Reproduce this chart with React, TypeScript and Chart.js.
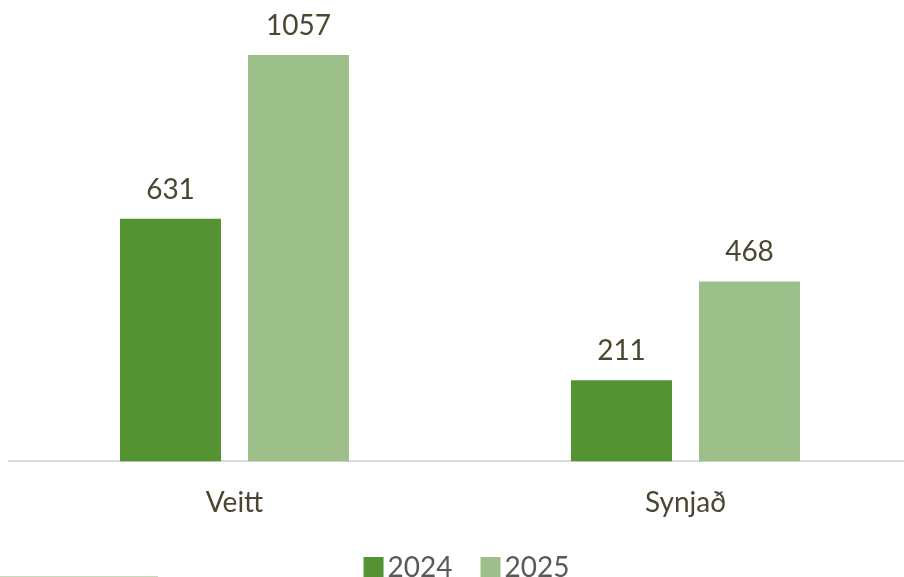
import React, { useEffect, useRef } from "react";
import { Chart, registerables } from "chart.js";

Chart.register(...registerables);

const categories = ["Veitt", "Synjað"];
const seriesLabels = ["2024", "2025"];
const values2024 = [631, 211];
const values2025 = [1057, 468];
const yMax = 1200;

const COLOR_2024 = "#559231";
const COLOR_2025 = "#9DC08B";
const LABEL_COLOR = "#4A4630";
const LEGEND_COLOR = "#595959";
const FONT = "Lato, 'Open Sans', sans-serif";

const dataLabelPlugin = {
  id: "dataLabels",
  afterDatasetsDraw(chart: any) {
    const ctx = chart.ctx;
    ctx.save();
    ctx.font = `28px ${FONT}`;
    ctx.fillStyle = LABEL_COLOR;
    ctx.textAlign = "center";
    ctx.textBaseline = "alphabetic";
    chart.data.datasets.forEach((ds: any, i: number) => {
      const meta = chart.getDatasetMeta(i);
      meta.data.forEach((bar: any, j: number) => {
        ctx.fillText(String(ds.data[j]), bar.x, bar.y - 20);
      });
    });
    ctx.restore();
  },
};

const customLegendPlugin = {
  id: "customLegend",
  afterDraw(chart: any) {
    const ctx = chart.ctx;
    ctx.save();
    ctx.font = `28px ${FONT}`;
    ctx.textBaseline = "alphabetic";
    ctx.textAlign = "left";
    const box = 20;
    const boxGap = 4;
    const itemGap = 28;
    const items = chart.data.datasets.map((ds: any) => ({
      text: ds.label,
      color: ds.backgroundColor,
      w: ctx.measureText(ds.label).width,
    }));
    const total =
      items.reduce((s: number, it: any) => s + box + boxGap + it.w, 0) +
      itemGap * (items.length - 1);
    let x = 466.5 - total / 2;
    const boxTop = 557;
    const baseline = 577;
    items.forEach((it: any) => {
      ctx.fillStyle = it.color;
      ctx.fillRect(x, boxTop, box, box);
      x += box + boxGap;
      ctx.fillStyle = LEGEND_COLOR;
      ctx.fillText(it.text, x, baseline);
      x += it.w + itemGap;
    });
    // faint fragment line at bottom-left
    ctx.strokeStyle = "#C6DCB8";
    ctx.lineWidth = 1;
    ctx.beginPath();
    ctx.moveTo(0, 576.5);
    ctx.lineTo(158, 576.5);
    ctx.stroke();
    ctx.restore();
  },
};

export default function App() {
  const canvasRef = useRef<HTMLCanvasElement | null>(null);

  useEffect(() => {
    if (!canvasRef.current) return;
    const chart = new Chart(canvasRef.current, {
      type: "bar",
      data: {
        labels: categories,
        datasets: [
          {
            label: seriesLabels[0],
            data: values2024,
            backgroundColor: COLOR_2024,
            categoryPercentage: 0.5676,
            barPercentage: 0.789,
          },
          {
            label: seriesLabels[1],
            data: values2025,
            backgroundColor: COLOR_2025,
            categoryPercentage: 0.5676,
            barPercentage: 0.789,
          },
        ],
      },
      options: {
        animation: false,
        responsive: true,
        maintainAspectRatio: false,
        layout: { padding: { left: 9, right: 0, top: 0, bottom: 40 } },
        plugins: {
          legend: { display: false },
          tooltip: { enabled: false },
        },
        scales: {
          x: {
            grid: { display: false },
            border: { display: true, color: "#D9D9D9", width: 2 },
            ticks: {
              color: LABEL_COLOR,
              font: { family: FONT, size: 28 },
              padding: 17,
            },
          },
          y: {
            display: false,
            min: 0,
            max: yMax,
          },
        },
      },
      plugins: [dataLabelPlugin, customLegendPlugin],
    });
    return () => chart.destroy();
  }, []);

  return (
    <div
      style={{
        position: "fixed",
        left: 0,
        top: 0,
        width: 911,
        height: 577,
        background: "#ffffff",
      }}
    >
      <canvas ref={canvasRef} />
    </div>
  );
}
